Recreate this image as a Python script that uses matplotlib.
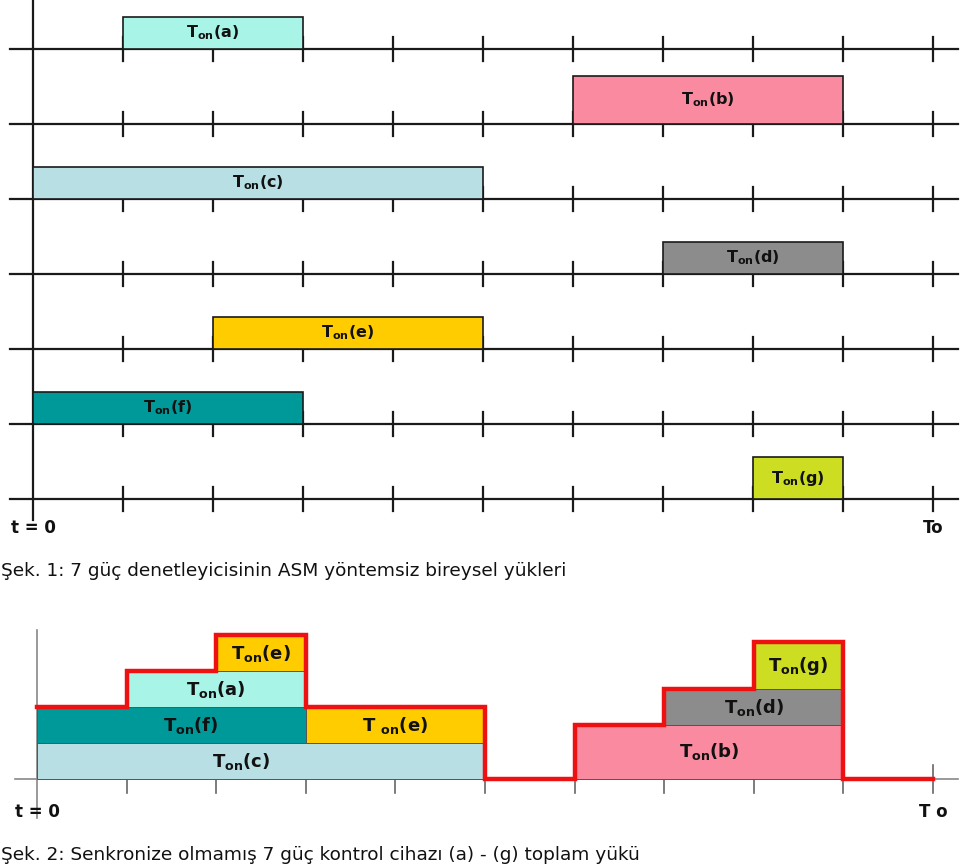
import numpy as np
import matplotlib
matplotlib.use("Agg")
import matplotlib.pyplot as plt

# loads: name, start slot, end slot, relative size, colour
names = ['a', 'b', 'c', 'd', 'e', 'f', 'g']
starts = [1, 6, 0, 7, 2, 0, 8]
ends = [3, 9, 5, 9, 5, 3, 9]
sizes = [1.0, 1.5, 1.0, 1.0, 1.0, 1.0, 1.3]
colors = ['#a8f5e8', '#f98aa0', '#b8dfe3', '#8c8c8c', '#ffcc00', '#009999', '#ccdd22']

# stacking order used in the total-load picture
stack_order = ['c', 'f', 'a', 'e', 'b', 'd', 'g']
# label centres that are not in the middle of their piece
label_shift = {'c': -0.22, 'f': 0.22}
n_slots = 10

caption1 = "Şek. 1: 7 güç denetleyicisinin ASM yöntemsiz bireysel yükleri"
caption2 = "Şek. 2: Senkronize olmamış 7 güç kontrol cihazı (a) - (g) toplam yükü"

W, H = 960, 868
fig = plt.figure(figsize=(W / 100, H / 100), dpi=100)

# ---------------- top chart: one row per load ----------------
px_x = 90.0     # pixels per time slot
x0_px = 33.0
row_px = 75.0
box_px = 32.0
top_h = 545.0
base_px = 499.0  # pixel y of the lowest row

ax1 = fig.add_axes([0, 1 - top_h / H, 1, top_h / H])
ax1.set_xlim(-x0_px / px_x, (W - x0_px) / px_x)
ax1.set_ylim(-(top_h - base_px) / row_px, base_px / row_px)
ax1.axis('off')

tick = 12 / row_px
nrow = len(names)
for k, nm in enumerate(names):
    yb = nrow - 1 - k
    ax1.plot([-23 / px_x, 925 / px_x], [yb, yb], color='#1a1a1a', lw=1.6, zorder=1)
    for t in range(1, n_slots + 1):
        ax1.plot([t, t], [yb - tick, yb + tick], color='#1a1a1a', lw=1.6, zorder=1)
    h = sizes[k] * box_px / row_px
    ax1.bar(starts[k], h, width=ends[k] - starts[k], bottom=yb, align='edge',
            color=colors[k], edgecolor='#1a1a1a', linewidth=1.2, zorder=2)
    ax1.text((starts[k] + ends[k]) / 2, yb + h / 2, r"T$_{\mathbf{on}}$(" + nm + ")",
             ha='center', va='center', fontsize=11.5, fontweight='bold', color='#111111', zorder=3)

ax1.plot([0, 0], [-21 / row_px, base_px / row_px], color='#1a1a1a', lw=1.6, zorder=1)
ax1.text(0, -29 / row_px, "t = 0", ha='center', va='center', fontsize=12,
         fontweight='bold', color='#111111')
ax1.text(n_slots, -29 / row_px, "To", ha='center', va='center', fontsize=12,
         fontweight='bold', color='#111111')

fig.text(1 / W, 1 - 571 / H, caption1, ha='left', va='center', fontsize=13.3,
         color='#111111', family='DejaVu Sans')

# ---------------- bottom chart: stacked total load ----------------
px_x2 = 89.6
x0_px2 = 37.0
unit_px = 36.0
b_top = 600.0
b_base = 779.0

ax2 = fig.add_axes([0, 0, 1, (H - b_top) / H])
ax2.set_xlim(-x0_px2 / px_x2, (W - x0_px2) / px_x2)
ax2.set_ylim(-(H - b_base) / unit_px, (b_base - b_top) / unit_px)
ax2.axis('off')

ax2.plot([-22 / px_x2, 921 / px_x2], [0, 0], color='#888888', lw=1.2, zorder=1)
ax2.plot([0, 0], [-39 / unit_px, 149 / unit_px], color='#888888', lw=1.2, zorder=1)
for t in range(1, n_slots):
    ax2.plot([t, t], [0, -14 / unit_px], color='#666666', lw=1.2, zorder=1)
ax2.plot([n_slots, n_slots], [-14 / unit_px, 14 / unit_px], color='#666666', lw=1.2, zorder=1)

slots = np.arange(n_slots)
level = np.zeros(n_slots)
for nm in stack_order:
    k = names.index(nm)
    on = (slots >= starts[k]) & (slots < ends[k])
    # split the load into pieces that sit at one height
    pieces = []
    for s in slots[on]:
        if pieces and pieces[-1][1] == s and pieces[-1][2] == level[s]:
            pieces[-1][1] = s + 1
        else:
            pieces.append([s, s + 1, level[s]])
    for i, (s0, s1, lv) in enumerate(pieces):
        ax2.bar(s0, sizes[k], width=s1 - s0, bottom=lv, align='edge',
                color=colors[k], edgecolor='#555555', linewidth=0.7, zorder=2)
        lab = r"T$_{\mathbf{on}}$(" + nm + ")"
        if i > 0:
            lab = r"T $_{\mathbf{on}}$(" + nm + ")"
        ax2.text((s0 + s1) / 2 + label_shift.get(nm, 0), lv + sizes[k] / 2, lab,
                 ha='center', va='center', fontsize=13, fontweight='bold',
                 color='#111111', zorder=3)
    level[on] += sizes[k]

# red envelope of the total load
xs = np.repeat(np.arange(n_slots + 1), 2)[1:-1]
ys = np.repeat(level, 2)
ax2.plot(xs, ys, color='#ee1111', lw=3.2, solid_joinstyle='miter', zorder=4)

ax2.text(0, -(812 - b_base) / unit_px, "t = 0", ha='center', va='center', fontsize=12,
         fontweight='bold', color='#111111')
ax2.text(n_slots, -(812 - b_base) / unit_px, "T o", ha='center', va='center', fontsize=12,
         fontweight='bold', color='#111111')

fig.text(1 / W, 1 - 855 / H, caption2, ha='left', va='center', fontsize=13.3,
         color='#111111', family='DejaVu Sans')

fig.savefig("out.png", dpi=100)
